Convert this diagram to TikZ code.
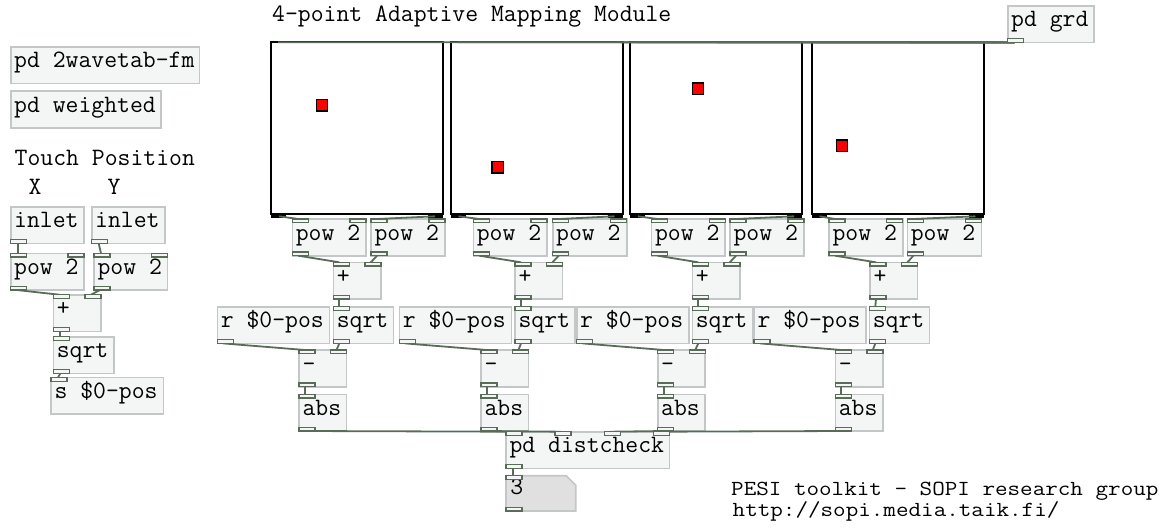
\documentclass[tikz,border=0pt]{standalone}
\usepackage{graphicx}
\definecolor{cordcol}{HTML}{5A6B5A}
\definecolor{boxfill}{HTML}{F4F6F6}
\definecolor{boxline}{HTML}{C4C7C7}
\definecolor{numfill}{HTML}{E0E0E0}
\newcommand\pdfont{\ttfamily\fontsize{25}{30}\selectfont}
\newcommand\footfont{\ttfamily\fontsize{24.4}{28}\selectfont}
\newcommand\footline[1]{\scalebox{1}[0.88]{#1}}
\tikzset{
  pdbox/.style={draw=boxline, fill=boxfill, line width=1.6pt, rectangle,
    inner xsep=3.5pt, inner ysep=0pt, outer sep=0pt, minimum height=36.7pt,
    text height=13.2pt, text depth=7.8pt, font=\pdfont},
  pdtext/.style={inner sep=0pt, anchor=base west, font=\pdfont},
  foottext/.style={inner sep=0pt, anchor=base west, font=\footfont},
  cord/.style={draw=cordcol, line width=1.8pt},
  nub/.style={draw=cordcol, fill=boxfill, line width=1.4pt},
  gridsq/.style={draw=black, fill=white, line width=2pt, rectangle,
    minimum width=172pt, minimum height=172pt, inner sep=0pt, outer sep=0pt,
    anchor=north west},
  marker/.style={fill=red, draw=black, line width=1.4pt}
}
% object box: name, x, y (top left), width, label
\newcommand\pdobj[5]{%
  \pgfmathsetmacro\pdtw{#4-7}%
  \node[pdbox, minimum width=#4pt, anchor=north west] (#1) at (#2,#3)
    {\makebox[\pdtw pt][l]{#5}};}
% iolets
\newcommand\inL[1]{\draw[nub] (#1.north west) rectangle ++(16,3.7);}
\newcommand\inR[1]{\draw[nub] (#1.north east) rectangle ++(-16,3.7);}
\newcommand\outL[1]{\draw[nub] (#1.south west) rectangle ++(16,-3.7);}
\begin{document}
\begin{tikzpicture}[x=1pt,y=-1pt]
\fill[white] (0,0) rectangle (1173,528);
\useasboundingbox (0,0) rectangle (1173,528);

% comments
\node[pdtext] (title) at (272,21.7) {4-point Adaptive Mapping Module};
\node[pdtext] (touch) at (14.5,165) {Touch Position};
\node[pdtext] (lblx) at (28.5,194.3) {X};
\node[pdtext] (lbly) at (107.5,194.3) {Y};
\node[foottext] (credit) at (731,495.5) {\footline{PESI toolkit - SOPI research group}};
\node[foottext] (url) at (732.5,516) {\footline{http://sopi.media.taik.fi/}};

% four position grids
\foreach \c/\sx in {1/271, 2/450.5, 3/630, 4/811.5}{
  \node[gridsq] (grid\c) at (\sx,42.3) {};
  \draw[line width=1pt] ([yshift=0.5pt]grid\c.south west) -- ([yshift=0.5pt]grid\c.south east);
  \fill ([yshift=1pt]grid\c.south west) rectangle ++(15,5);
  \fill ([yshift=1pt]grid\c.south east) rectangle ++(-15,5);
}
\draw[marker] (316.4,99.7) rectangle ++(11.2,11.2);
\draw[marker] (492,161.7) rectangle ++(11.2,11.2);
\draw[marker] (692.4,83) rectangle ++(11.2,11.2);
\draw[marker] (836.4,140) rectangle ++(11.2,11.2);

% left part: touch position
\pdobj{wavetab}{10.7}{46.7}{188.7}{pd 2wavetab-fm}
\pdobj{weighted}{10.7}{91}{150.3}{pd weighted}
\pdobj{inX}{10.7}{206.7}{73.3}{inlet}
\pdobj{inY}{91.7}{206.7}{73.3}{inlet}
\pdobj{powX}{10.7}{253.3}{73.3}{pow 2}
\pdobj{powY}{94}{253.3}{73.3}{pow 2}
\pdobj{sumXY}{53.3}{294.7}{47.7}{+}
\pdobj{root}{53.3}{336.7}{60.7}{sqrt}
\pdobj{send}{51}{377.5}{112.3}{s \$0-pos}

\pdobj{grd}{1007.7}{5.7}{86.3}{pd grd}
\pdobj{dc}{506}{431.7}{163.3}{pd distcheck}

% number box
\node[rectangle, inner xsep=4pt, inner ysep=0pt, outer sep=0pt, minimum width=69.7pt,
  minimum height=35.3pt, text height=12pt, text depth=10.3pt, font=\pdfont,
  anchor=north west] (num) at (506,475.7) {\makebox[61.7pt][l]{}};
\filldraw[draw=boxline, fill=numfill, line width=1.6pt]
  (num.north west) -- ([xshift=-9.5pt]num.north east) -- ([yshift=-9.5pt]num.north east)
  -- (num.south east) -- (num.south west) -- cycle;
\node[pdtext] (numval) at (510.2,494.2) {3};

% per-point distance chains
\foreach \c/\plx/\prx/\ax/\rx/\qx/\mx in {
  1/292.3/371/333.3/217.3/333.3/299,
  2/473.3/552.7/515/399.3/515/481,
  3/651.5/730/692.3/576.7/692.3/657.7,
  4/829/907.3/870/754/869.3/835.3}{
  \pdobj{pl\c}{\plx}{219}{73.7}{pow 2}
  \pdobj{pr\c}{\prx}{219}{74}{pow 2}
  \pdobj{ad\c}{\ax}{262.3}{47.5}{+}
  \pdobj{rc\c}{\rx}{306.7}{112}{r \$0-pos}
  \pdobj{rt\c}{\qx}{306.7}{60}{sqrt}
  \pdobj{mi\c}{\mx}{350}{47.5}{-}
  \pdobj{ab\c}{\mx}{394.3}{47.5}{abs}
}

% connections
\foreach \c/\dcx in {1/6, 2/55.1, 3/104.2, 4/153.3}{
  \draw[cord] ([xshift=7pt]grd.south west) -- ([xshift=7pt]grid\c.north west);
  \draw[cord] ([xshift=8pt,yshift=-2pt]grid\c.south west) -- ([xshift=6pt]pl\c.north west);
  \draw[cord] ([xshift=-8pt,yshift=-2pt]grid\c.south east) -- ([xshift=6pt]pr\c.north west);
  \draw[cord] ([xshift=6pt]pl\c.south west) -- ([xshift=6pt]ad\c.north west);
  \draw[cord] ([xshift=6pt]pr\c.south west) -- ([xshift=-10pt]ad\c.north east);
  \draw[cord] ([xshift=6pt]ad\c.south west) -- ([xshift=6pt]rt\c.north west);
  \draw[cord] ([xshift=6pt]rc\c.south west) -- ([xshift=6pt]mi\c.north west);
  \draw[cord] ([xshift=6pt]rt\c.south west) -- ([xshift=-10pt]mi\c.north east);
  \draw[cord] ([xshift=6pt]mi\c.south west) -- ([xshift=6pt]ab\c.north west);
  \draw[cord] ([xshift=6pt]ab\c.south west) -- ([xshift=\dcx pt]dc.north west);
}
\draw[cord] ([xshift=7pt]dc.south west) -- ([xshift=7pt]num.north west);
\draw[cord] ([xshift=7pt]inX.south west) -- ([xshift=7pt]powX.north west);
\draw[cord] ([xshift=7pt]inY.south west) -- ([xshift=7pt]powY.north west);
\draw[cord] ([xshift=6pt]powX.south west) -- ([xshift=6pt]sumXY.north west);
\draw[cord] ([xshift=6pt]powY.south west) -- ([xshift=-10pt]sumXY.north east);
\draw[cord] ([xshift=7pt]sumXY.south west) -- ([xshift=7pt]root.north west);
\draw[cord] ([xshift=7pt]root.south west) -- ([xshift=7pt]send.north west);

% iolets
\foreach \c in {1,2,3,4}{
  \inL{pl\c} \inR{pl\c} \outL{pl\c}
  \inL{pr\c} \inR{pr\c} \outL{pr\c}
  \inL{ad\c} \inR{ad\c} \outL{ad\c}
  \outL{rc\c}
  \inL{rt\c} \outL{rt\c}
  \inL{mi\c} \inR{mi\c} \outL{mi\c}
  \inL{ab\c} \outL{ab\c}
}
\outL{inX} \outL{inY}
\inL{powX} \inR{powX} \outL{powX}
\inL{powY} \inR{powY} \outL{powY}
\inL{sumXY} \inR{sumXY} \outL{sumXY}
\inL{root} \outL{root}
\inL{send}
\outL{grd}
\foreach \dx in {0, 49.1, 98.2}{
  \draw[nub] (dc.north west) ++(\dx,0) rectangle ++(16,3.7);
}
\inR{dc} \outL{dc}
\inL{num} \outL{num}
\end{tikzpicture}
\end{document}
